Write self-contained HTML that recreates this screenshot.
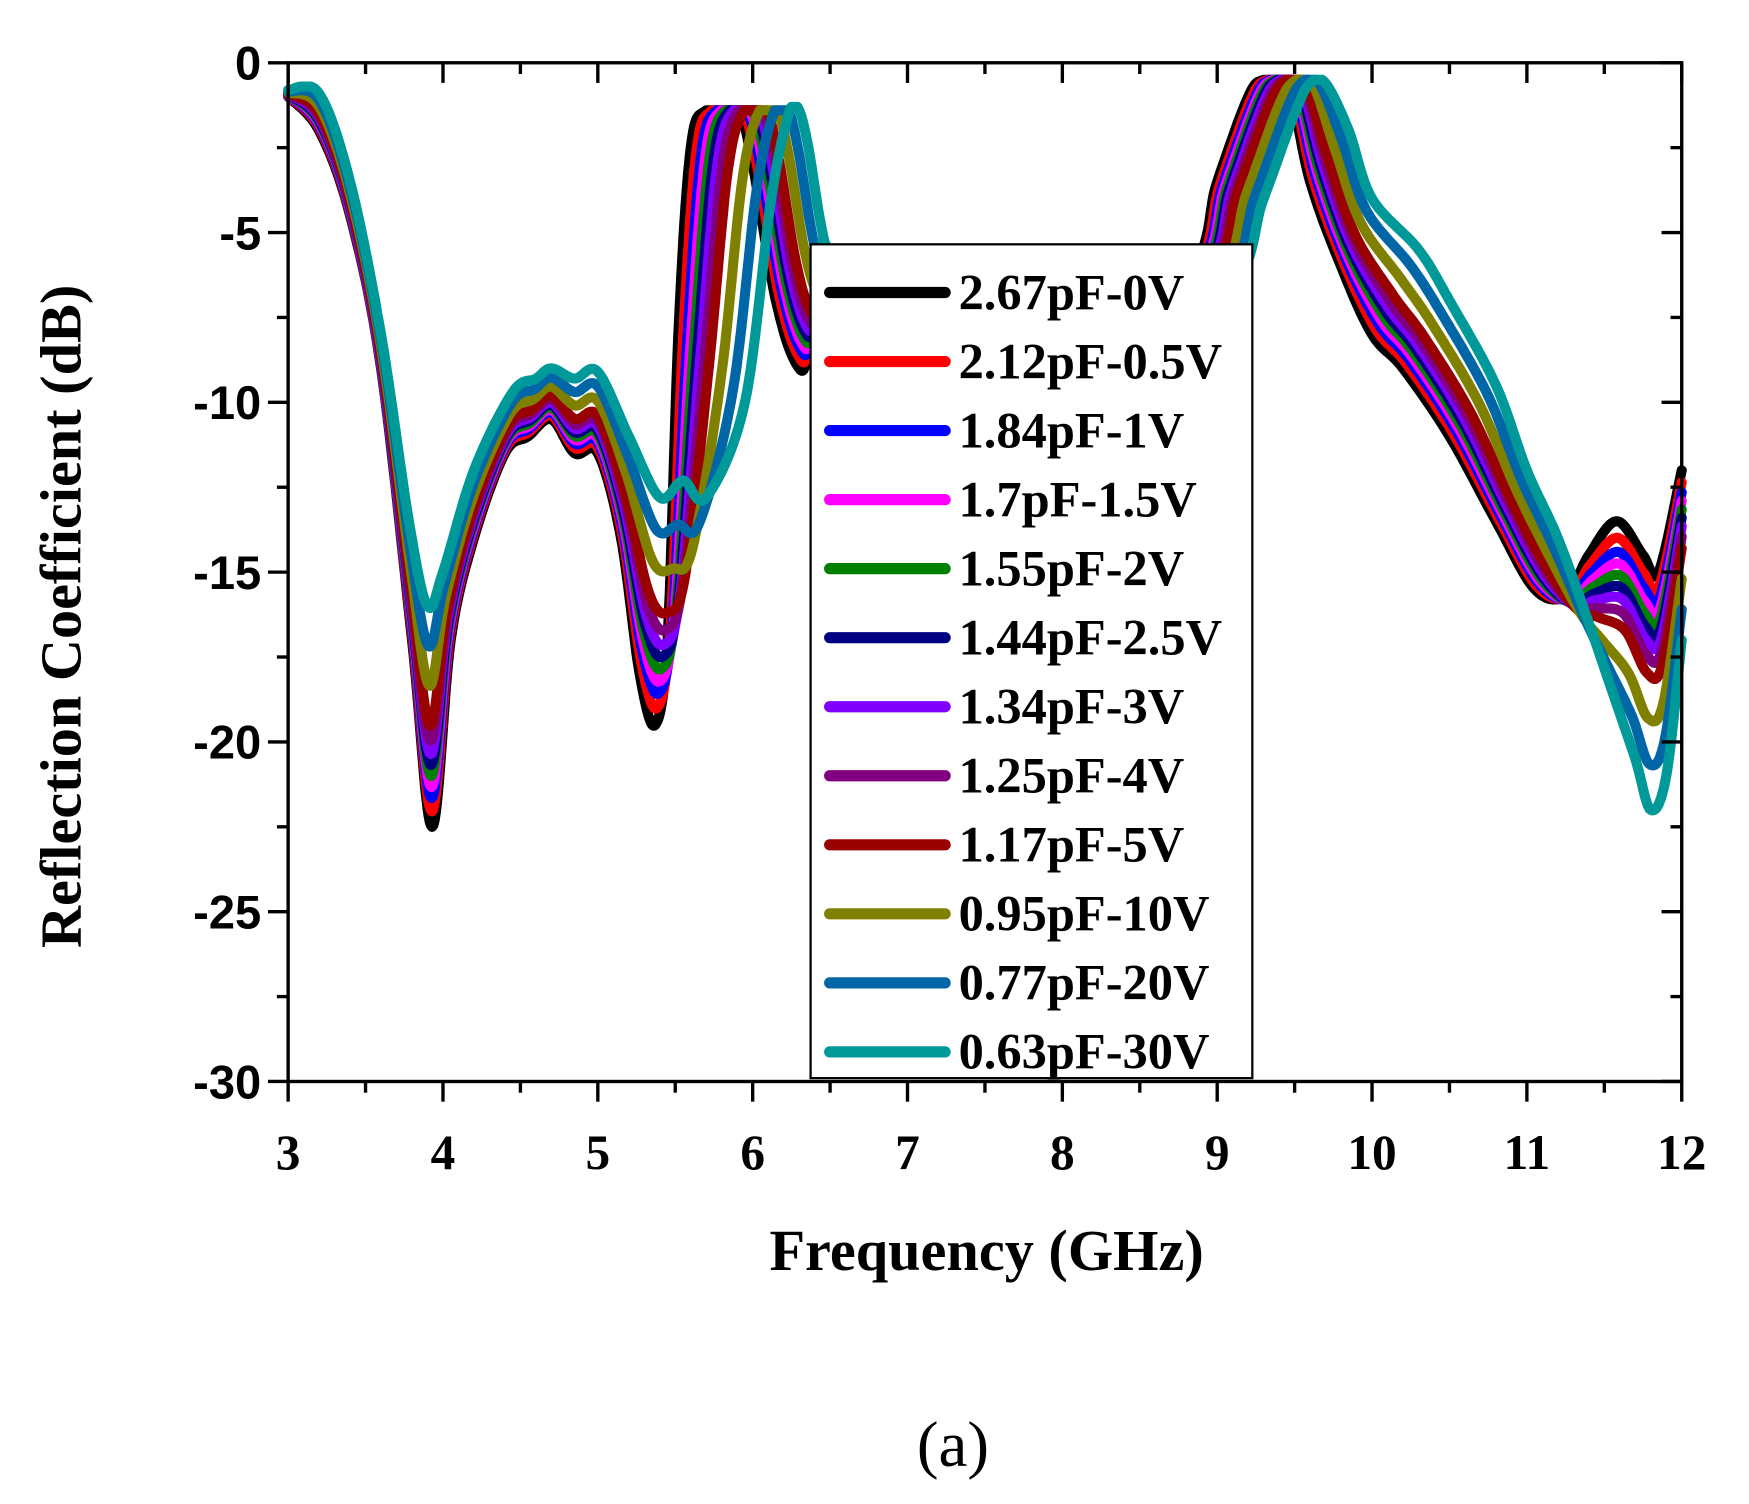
<!DOCTYPE html>
<html><head><meta charset="utf-8"><style>
html,body{margin:0;padding:0;background:#fff;}
svg{display:block}
</style></head><body>
<svg id="s" width="1749" height="1504" viewBox="0 0 1560 1342" preserveAspectRatio="none" xmlns="http://www.w3.org/2000/svg">
<rect width="1560" height="1342" fill="#fff"/>
<g id="curves" fill="none" stroke-linejoin="round" stroke-linecap="round"></g>
<g id="axes" stroke="#000" stroke-width="3" fill="none"></g>
<g id="labels"></g>
<rect x="723" y="218" width="394" height="744" fill="#fff" stroke="#000" stroke-width="2"/>
<g id="legend"></g>
<text x="880" y="1133" font-family="Liberation Serif, serif" font-weight="bold" font-size="52" text-anchor="middle">Frequency (GHz)</text>
<text transform="translate(72,550) rotate(-90)" font-family="Liberation Serif, serif" font-weight="bold" font-size="52" text-anchor="middle">Reflection Coefficient (dB)</text>
<text x="850" y="1308" font-family="Liberation Serif, serif" font-size="58" text-anchor="middle">(a)</text>
</svg>
<script>
const X0=257,X1=1500,Y0=56,Y1=965;
const fx=f=>X0+(f-3)*(X1-X0)/9, fy=d=>Y0+(-d)*(Y1-Y0)/30;
const NS="http://www.w3.org/2000/svg";
function el(t,a,p,txt){const e=document.createElementNS(NS,t);for(const k in a)e.setAttribute(k,a[k]);if(txt!==undefined)e.textContent=txt;p.appendChild(e);return e;}
const B=[[3.0,-1],[3.2,-2],[3.4,-4.5],[3.6,-9],[3.8,-17],[3.93,-22.5],[4.05,-17],[4.2,-14],[4.4,-11.5],[4.55,-11],[4.7,-10.5],[4.85,-11.5],[5.0,-11.5],
[5.15,-14],[5.27,-18],[5.37,-19.5],[5.45,-17],[5.52,-8],[5.6,-2.5],[5.7,-1.4],[5.9,-1.4],[6.0,-3],[6.15,-7],[6.3,-9],[6.5,-9.2],
[7.5,-15],
[8.75,-7],[9.0,-3.5],[9.2,-1],[9.3,-0.5],[9.45,-0.5],[9.6,-3.5],[9.8,-6],[10.0,-8],[10.2,-9],[10.5,-11],[10.8,-13.5],[11.05,-15.5],[11.25,-15.7],[11.4,-14.5],[11.58,-13.5],[11.75,-14.5],[11.85,-15],[12.0,-12]];
const T=[[3.0,-0.8],[3.2,-0.9],[3.4,-3.5],[3.6,-8],[3.78,-13.5],[3.9,-16],[4.0,-15],[4.2,-12],[4.45,-9.7],[4.6,-9.3],[4.7,-9],[4.85,-9.3],[5.0,-9.1],
[5.2,-11],[5.4,-12.8],[5.55,-12.3],[5.7,-12.8],[5.95,-10],[6.12,-4],[6.24,-1.4],[6.3,-1.4],[6.36,-2.5],[6.43,-4.5],[6.48,-5.5],[6.55,-6],
[7.6,-15],
[9.0,-7.5],[9.3,-4],[9.5,-1.5],[9.6,-0.6],[9.7,-0.6],[9.85,-2],[10.0,-4],[10.3,-5.5],[10.5,-7],[10.8,-9.5],[11.0,-12],[11.2,-14],[11.4,-16.5],[11.55,-18.5],[11.7,-20.5],[11.8,-22],[11.9,-21],[12.0,-17]];
const S=[["2.67pF-0V","#000000",0],["2.12pF-0.5V","#ff0000",0.07],["1.84pF-1V","#0000ff",0.13],["1.7pF-1.5V","#ff00ff",0.18],["1.55pF-2V","#008000",0.23],["1.44pF-2.5V","#000080",0.28],["1.34pF-3V","#8000ff",0.33],["1.25pF-4V","#800080",0.39],["1.17pF-5V","#990000",0.46],["0.95pF-10V","#808000",0.64],["0.77pF-20V","#0066a6",0.82],["0.63pF-30V","#009999",1]];
const cg=document.getElementById('curves');
function sample(pts){const out=[];for(let i=0;i<pts.length-1;i++){const p0=pts[Math.max(0,i-1)],p1=pts[i],p2=pts[i+1],p3=pts[Math.min(pts.length-1,i+2)];for(let k=0;k<16;k++){const t=k/16,t2=t*t,t3=t2*t;const f=j=>0.5*((2*p1[j])+(-p0[j]+p2[j])*t+(2*p0[j]-5*p1[j]+4*p2[j]-p3[j])*t2+(-p0[j]+3*p1[j]-3*p2[j]+p3[j])*t3);out.push([f(0),f(1)]);}}out.push(pts[pts.length-1]);return out;}
S.forEach(([n,c,t])=>{const pts=B.map((b,i)=>{const f=b[0]+(T[i][0]-b[0])*t;let d=b[1]+(T[i][1]-b[1])*t;return [fx(f),fy(d)];});
let sp=sample(pts).map(([x,y])=>{let lim;if(x<fx(5.3))lim=fy(-0.7);else if(x<fx(7.5))lim=(t===1?fy(-1.3):fy(-1.4));else lim=fy(-0.5);return [x,Math.max(y,lim)];});
el('polyline',{points:sp.map(p=>p[0].toFixed(1)+','+p[1].toFixed(1)).join(' '),stroke:c,'stroke-width':9},cg);});
const ax=document.getElementById('axes');
el('rect',{x:X0,y:Y0,width:X1-X0,height:Y1-Y0},ax);
for(let f=3;f<=12;f+=0.5){const x=fx(f),L=(f%1===0)?18:10;el('line',{x1:x,y1:Y1,x2:x,y2:Y1+L},ax);el('line',{x1:x,y1:Y0,x2:x,y2:Y0+L},ax);}
for(let d=0;d>=-30;d-=2.5){const y=fy(d),L=(d%5===0)?18:10;el('line',{x1:X0,y1:y,x2:X0-L,y2:y},ax);el('line',{x1:X1,y1:y,x2:X1-L,y2:y},ax);}
const lg=document.getElementById('labels');
for(let f=3;f<=12;f++)el('text',{x:fx(f),y:1043,'font-family':'Liberation Serif, serif','font-weight':'bold','font-size':44,'text-anchor':'middle'},lg,String(f));
for(let d=0;d>=-30;d-=5)el('text',{x:233,y:fy(d)+15,'font-family':'Liberation Sans, sans-serif','font-weight':'bold','font-size':42,'text-anchor':'end'},lg,String(d));
const L=document.getElementById('legend');
S.forEach(([n,c],i)=>{const y=261+i*61.6;el('line',{x1:740,y1:y,x2:843,y2:y,stroke:c,'stroke-width':10,'stroke-linecap':'round'},L);el('text',{x:855,y:y+15,'font-family':'Liberation Serif, serif','font-weight':'bold','font-size':45},L,n);});
</script>
</body></html>
